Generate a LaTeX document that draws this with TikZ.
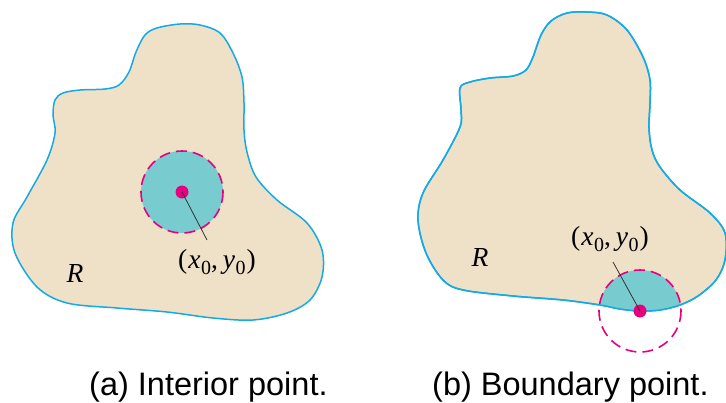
\documentclass[tikz,border=0pt]{standalone}
\usepackage{fontspec}
\newfontfamily\capfont{Liberation Sans}
\newfontfamily\lblfont{Liberation Serif}
\definecolor{regfill}{RGB}{239,224,200}
\definecolor{bnd}{RGB}{20,170,230}
\definecolor{disc}{RGB}{120,204,208}
\definecolor{mag}{RGB}{230,0,126}
\newcommand{\subz}{\raisebox{-6pt}{\fontsize{20}{20}\selectfont 0}}
\newcommand{\ptlabel}{(\kern1pt\textit{x}\kern0.5pt\subz,\kern5pt\textit{y}\kern0.5pt\subz\kern1pt)}
\tikzset{
  region/.style={fill=regfill, draw=bnd, line width=1.5pt},
  nbhd/.style={draw=mag, line width=1.6pt, dash pattern=on 11pt off 6pt},
  ptdot/.style={circle, fill=mag, inner sep=0pt, minimum size=13pt},
  leader/.style={draw=black!80, line width=0.8pt},
  mathlbl/.style={font=\lblfont\fontsize{27.5}{32}\selectfont, inner sep=0pt},
  caption/.style={font=\capfont\fontsize{32.5}{38}\selectfont, anchor=base west, inner sep=0pt}
}
\begin{document}
\begin{tikzpicture}[x=1pt,y=-1pt]
\useasboundingbox (0,0) rectangle (726,402);
% ---------- (a) ----------
\def\shapeA{plot[smooth cycle, tension=0.55] coordinates {
 (55,100) (63,93) (80,90) (105,89) (119,85) (129,72) (136,52) (145,35)
 (157,28) (180,24) (200,25) (220,33) (233,53) (242,77) (244,103) (244,130)
 (247,152) (256,177) (277,200) (307,223) (322,250) (322,277)
 (310,300) (287,313) (253,320) (213,318) (167,312) (117,308) (67,303)
 (37,287) (15,253) (13,223) (27,197) (47,160) (55,133) (53,115)}}
\path[region] \shapeA;
\fill[disc] (182,192) circle (41);
\draw[nbhd] (182,192) circle (41);
\node[ptdot] (pa) at (182,192) {};
\coordinate (la) at (207,240);
\draw[leader] (pa.center) -- (la);
\node[mathlbl] (lblA) at (217,262) {\ptlabel};
\node[mathlbl] (RA) at (75,273) {\textit{R}};
% ---------- (b) ----------
\def\shapeB{plot[smooth cycle, tension=0.55] coordinates {
 (460,88) (470,82) (490,78) (513,76) (526,70) (533,57) (541,35) (551,21)
 (567,13) (587,12) (607,15) (627,30) (643,57) (650,80) (650,103) (649,128)
 (652,150) (660,167) (680,190) (710,213) (725,233) (725,260)
 (716,280) (698,296) (680,305) (660,310) (640,311) (620,309) (600,305)
 (563,300) (513,296) (463,290) (443,280) (426,253) (418,220) (423,193)
 (443,160) (460,127) (461,110)}}
\path[region] \shapeB;
\begin{scope}
  \clip \shapeB;
  \fill[disc] (640,311) circle (41);
\end{scope}
\draw[bnd, line width=1.5pt] \shapeB;
\draw[nbhd] (640,311) circle (41);
\node[ptdot] (pb) at (640,311) {};
\coordinate (lb) at (613,262);
\draw[leader] (pb.center) -- (lb);
\node[mathlbl] (lblB) at (610,239) {\ptlabel};
\node[mathlbl] (RB) at (480,257) {\textit{R}};
% ---------- captions ----------
\node[caption] (capA) at (89,395) {(a) Interior point.};
\node[caption] (capB) at (432,395) {(b) Boundary point.};
\end{tikzpicture}
\end{document}
